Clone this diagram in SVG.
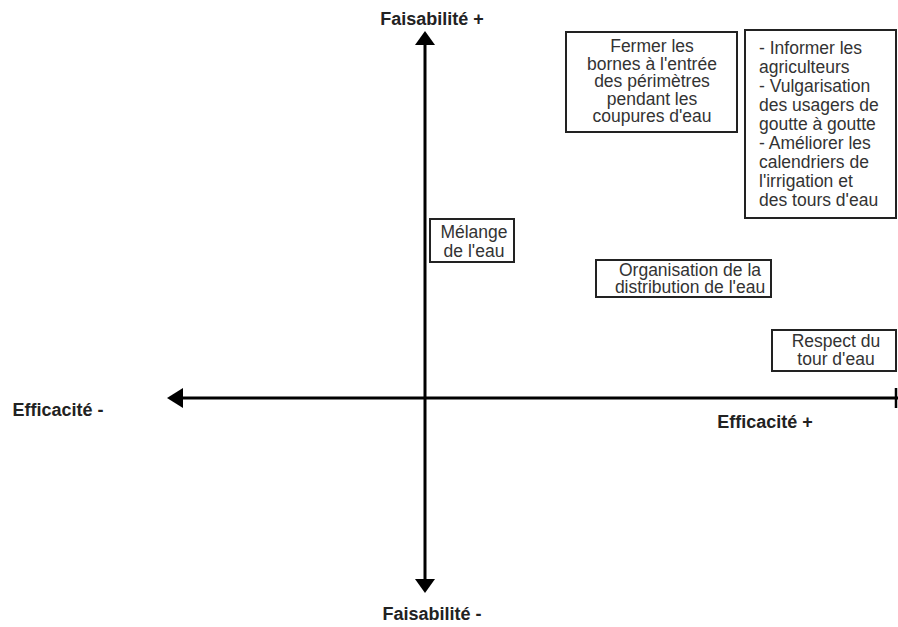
<svg xmlns="http://www.w3.org/2000/svg" width="898" height="627" viewBox="0 0 898 627">
<style>
.lbl{font-family:"Liberation Sans",Arial,sans-serif;font-size:18px;font-weight:bold;fill:#222}
.t{font-family:"Liberation Sans",Arial,sans-serif;font-size:17.5px;fill:#333}
.box{fill:#fff;stroke:#222;stroke-width:2}
.axis{stroke:#000;stroke-width:3;fill:none}
.head{fill:#000}
</style>
<rect width="898" height="627" fill="#fff"/>
<g id="connectors">
<line class="axis" x1="425" y1="42" x2="425" y2="582"/>
<polygon class="head" points="425,31 415,45 435,45"/>
<polygon class="head" points="425,593 415,579 435,579"/>
<line class="axis" x1="180" y1="398" x2="898" y2="398"/>
<polygon class="head" points="167,398 183,388 183,408"/>
<line x1="896" y1="388" x2="896" y2="408" stroke="#000" stroke-width="2.5"/>
</g>
<g id="axis-labels">
<text class="lbl" x="432" y="25" text-anchor="middle">Faisabilité +</text>
<text class="lbl" x="432" y="620" text-anchor="middle">Faisabilité -</text>
<text class="lbl" x="58" y="416" text-anchor="middle">Efficacité -</text>
<text class="lbl" x="765" y="428" text-anchor="middle">Efficacité +</text>
</g>
<g id="node-fermer">
<rect class="box" x="566" y="32" width="171" height="100"/>
<text class="t" text-anchor="middle"><tspan x="652" y="52">Fermer les</tspan><tspan x="652" y="69.5">bornes à l'entrée</tspan><tspan x="652" y="87">des périmètres</tspan><tspan x="652" y="104.5">pendant les</tspan><tspan x="652" y="122">coupures d'eau</tspan></text>
</g>
<g id="node-informer">
<rect class="box" x="745" y="30" width="151" height="188"/>
<text class="t"><tspan x="759" y="54">- Informer les</tspan><tspan x="759" y="73">agriculteurs</tspan><tspan x="759" y="92">- Vulgarisation</tspan><tspan x="759" y="111">des usagers de</tspan><tspan x="759" y="130">goutte à goutte</tspan><tspan x="759" y="149">- Améliorer les</tspan><tspan x="759" y="168">calendriers de</tspan><tspan x="759" y="187">l'irrigation et</tspan><tspan x="759" y="206">des tours d'eau</tspan></text>
</g>
<g id="node-melange">
<rect class="box" x="430" y="219" width="84" height="43"/>
<text class="t" text-anchor="middle"><tspan x="474" y="238">Mélange</tspan><tspan x="474" y="257">de l'eau</tspan></text>
</g>
<g id="node-organisation">
<rect class="box" x="596" y="260" width="175" height="37"/>
<text class="t" text-anchor="middle"><tspan x="690" y="276">Organisation de la</tspan><tspan x="690" y="293">distribution de l'eau</tspan></text>
</g>
<g id="node-respect">
<rect class="box" x="772" y="330" width="124" height="41"/>
<text class="t" text-anchor="middle"><tspan x="836" y="347">Respect du</tspan><tspan x="836" y="365">tour d'eau</tspan></text>
</g>
</svg>
